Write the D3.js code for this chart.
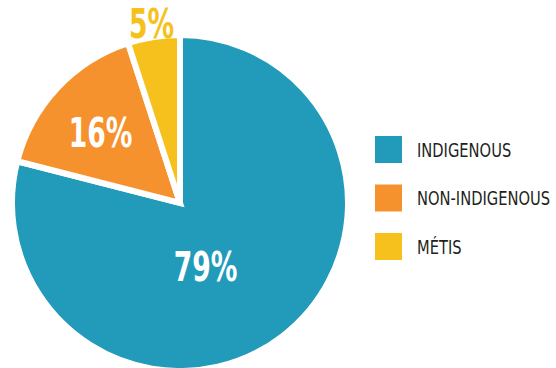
<!DOCTYPE html>
<html>
<head>
<meta charset="utf-8">
<script src="https://cdn.jsdelivr.net/npm/d3@7"></script>
<style>
  html, body { margin: 0; padding: 0; background: #fff; }
  svg { display: block; }
</style>
</head>
<body>
<svg id="chart" width="556" height="368"></svg>
<script>
const categories = ["INDIGENOUS", "NON-INDIGENOUS", "MÉTIS"];
const values = [79, 16, 5];
const labels = ["79%", "16%", "5%"];
const colors = ["#229bba", "#f6922e", "#f6c11d"];

const W = 556, H = 368;
const cx = 180, cy = 203, R = 168;
const svg = d3.select("#chart");
const fontFamily = "'DejaVu Sans Condensed', 'DejaVu Sans', sans-serif";

const pie = d3.pie().sort(null).value(d => d)(values);
const arc = d3.arc().innerRadius(0).outerRadius(R);

const g = svg.append("g").attr("transform", `translate(${cx},${cy})`);
g.selectAll("path.slice")
  .data(pie)
  .join("path")
  .attr("class", "slice")
  .attr("d", arc)
  .attr("fill", (d, i) => colors[i])
  .attr("stroke", "#fff")
  .attr("stroke-width", 6)
  .attr("stroke-linejoin", "miter");

// label placement: radius and angle shift per slice
const labelCfg = [
  { r: 69, shift: 0.28, fill: "#fff" },
  { r: 106, shift: -0.03, fill: "#fff" },
  { r: 182, shift: 0, fill: colors[2] }
];
g.selectAll("g.lbl")
  .data(pie)
  .join("g")
  .attr("class", "lbl")
  .attr("transform", (d, i) => {
    const c = labelCfg[i];
    const a = (d.startAngle + d.endAngle) / 2 + c.shift;
    return `translate(${Math.sin(a) * c.r},${-Math.cos(a) * c.r}) scale(0.74,1)`;
  })
  .append("text")
  .attr("text-anchor", "middle")
  .attr("dy", "0.36em")
  .attr("font-family", fontFamily)
  .attr("font-weight", "bold")
  .attr("font-size", 40)
  .attr("fill", (d, i) => labelCfg[i].fill)
  .text((d, i) => labels[i]);

// legend
const ly = d3.scalePoint().domain(categories).range([149.5, 246.5]);
const legend = svg.append("g");
const items = legend.selectAll("g").data(categories).join("g")
  .attr("transform", d => `translate(375,${ly(d)})`);
items.append("rect")
  .attr("x", 0).attr("y", -13.5)
  .attr("width", 27).attr("height", 27)
  .attr("fill", (d, i) => colors[i]);
items.append("g")
  .attr("transform", "translate(42,7) scale(0.86,1)")
  .append("text")
  .attr("font-family", fontFamily)
  .attr("font-size", 19)
  .attr("fill", "#231f20")
  .text(d => d);
</script>
</body>
</html>
